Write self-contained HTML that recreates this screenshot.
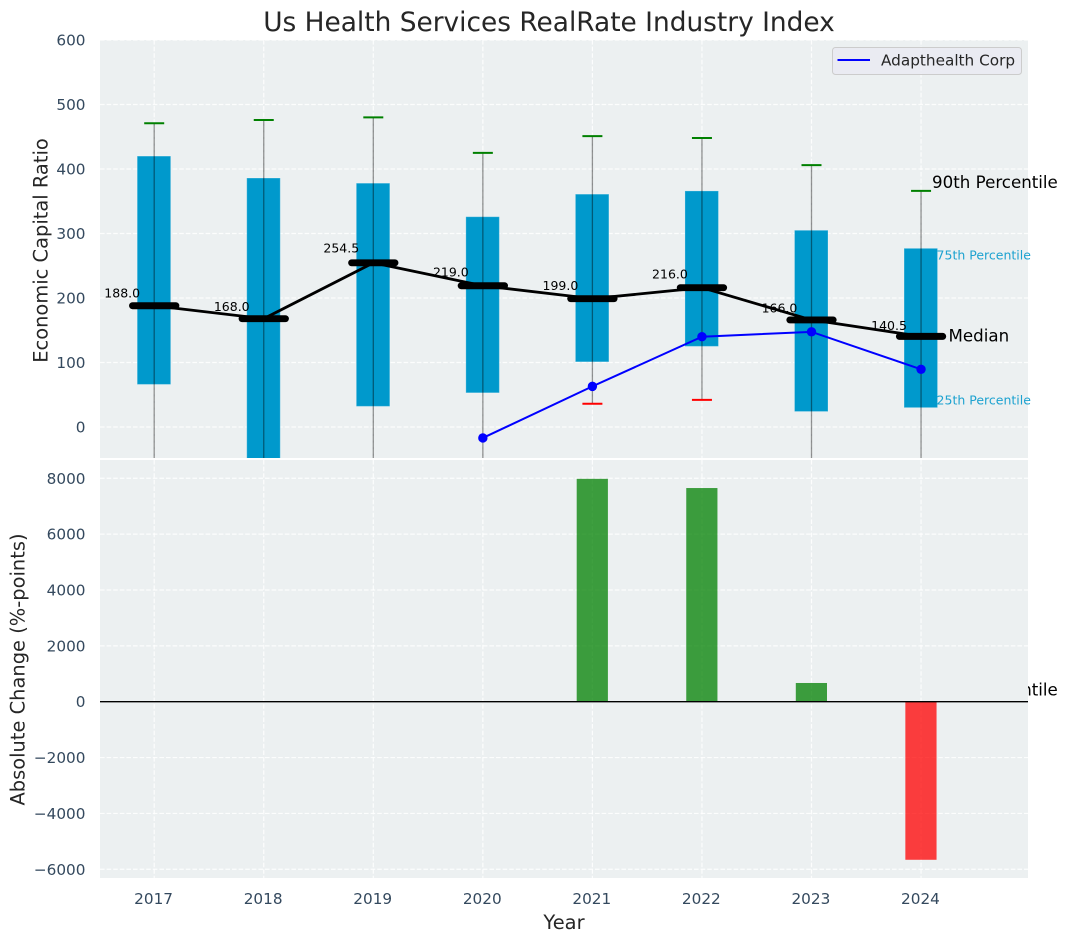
<!DOCTYPE html>
<html lang="en">
<head>
<meta charset="utf-8">
<title>Us Health Services RealRate Industry Index</title>
<style>
html,body{margin:0;padding:0;background:#fff;width:1067px;height:942px;overflow:hidden}
svg{display:block;font-family:"DejaVu Sans","Liberation Sans",sans-serif}
</style>
</head>
<body>
<svg id="chart" xmlns="http://www.w3.org/2000/svg" width="1067" height="942" viewBox="0 0 1067 942">
  <defs>
    <clipPath id="clip-top"><rect x="100" y="40" width="928" height="418"/></clipPath>
  </defs>
  <text x="549" y="31" text-anchor="middle" font-size="26.4" fill="#262626">Us Health Services RealRate Industry Index</text>
  <g id="top-panel"></g>
  <g id="bottom-panel"></g>
  <text transform="translate(47.5,250.5) rotate(-90)" text-anchor="middle" font-size="19.44" fill="#262626">Economic Capital Ratio</text>
  <text transform="translate(24.5,669.5) rotate(-90)" text-anchor="middle" font-size="19.44" fill="#262626">Absolute Change (%-points)</text>
  <text x="564" y="929" text-anchor="middle" font-size="19.44" fill="#262626">Year</text>
  <g>
    <rect x="832.5" y="47.5" width="189" height="27" rx="3" fill="#eaeaf2" fill-opacity="0.8" stroke="#cccccc"/>
    <line x1="837.5" x2="870" y1="60" y2="60" stroke="#0000ff" stroke-width="2"/>
    <text x="881" y="65.5" font-size="15.28" fill="#262626">Adapthealth Corp</text>
  </g>
</svg>
<script>
const years = [2017, 2018, 2019, 2020, 2021, 2022, 2023, 2024];
const p90 = [471, 476, 480, 425, 451, 448, 406, 366];
const p75 = [420, 386, 378, 326, 361, 366, 305, 277];
const medians = [188, 168, 254.5, 219, 199, 216, 166, 140.5];
const medianLabels = ["188.0", "168.0", "254.5", "219.0", "199.0", "216.0", "166.0", "140.5"];
const p25 = [66, -60, 32, 53, 101, 125, 24, 30];
const p10 = [-120, -200, -150, -100, 36, 42, -120, -408];
const companyYears = [2020, 2021, 2022, 2023, 2024];
const companyValues = [-17, 63, 140, 147.5, 89.5];
const changeYears = [2021, 2022, 2023, 2024];
const changeValues = [7980, 7650, 670, -5660];
const ratioTicks = [0, 100, 200, 300, 400, 500, 600];
const changeTicks = [-6000, -4000, -2000, 0, 2000, 4000, 6000, 8000];

const NS = 'http://www.w3.org/2000/svg';
const xOf = v => 154.2 + (v - 2017) * 109.55;
const yTop = v => 427 - v * 0.645;
const yBot = v => 701.7 - v * 0.02793;
const topPanel = document.getElementById('top-panel');
const bottomPanel = document.getElementById('bottom-panel');

function make(parent, tag, attrs, text) {
  const el = document.createElementNS(NS, tag);
  for (const k in attrs) el.setAttribute(k, attrs[k]);
  if (text !== undefined) el.textContent = text;
  parent.appendChild(el);
  return el;
}
function fmt(t) { return String(t).replace('-', '\u2212'); }
const gridStyle = { stroke: '#ffffff', 'stroke-opacity': 0.85, 'stroke-width': 1.2, 'stroke-dasharray': '4.6,2' };

function drawPanel(parent, yMin, yMax, ticks, yFn, name) {
  let el = make(parent, 'rect', { x: 100, y: yMin, width: 928, height: yMax - yMin, fill: '#ecf0f1' });
  
  
  ticks.forEach(t => {
    const y = yFn(t);
    el = make(parent, 'line', Object.assign({ x1: 100, x2: 1028, y1: y, y2: y }, gridStyle));
    
    
    el = make(parent, 'text', { x: 85.5, y: y + 5.5, 'text-anchor': 'end', 'font-size': 15.28, fill: '#34495e' }, fmt(t));
    
    
  });
  years.forEach(yr => {
    el = make(parent, 'line', Object.assign({ x1: xOf(yr), x2: xOf(yr), y1: yMin, y2: yMax }, gridStyle));
    
    
  });
}

/* ---------- top panel ---------- */
drawPanel(topPanel, 40, 458, ratioTicks, yTop, 'ratio');
const topMarks = make(topPanel, 'g', { 'clip-path': 'url(#clip-top)' });



years.forEach((yr, i) => {
  const cx = xOf(yr);
  let el = make(topMarks, 'rect', {
    x: cx - 17, y: yTop(p75[i]), width: 33.5, height: yTop(p25[i]) - yTop(p75[i]),
    fill: '#0099cc', stroke: '#ffffff', 'stroke-opacity': 0.25, 'stroke-width': 1
  });
  
  
  el = make(topMarks, 'line', { x1: cx, x2: cx, y1: yTop(p90[i]), y2: yTop(p10[i]), stroke: '#000000', 'stroke-opacity': 0.42, 'stroke-width': 1.3 });
  
  
  el = make(topMarks, 'line', { x1: cx - 10, x2: cx + 10, y1: yTop(p90[i]), y2: yTop(p90[i]), stroke: '#008000', 'stroke-width': 2 });
  
  
  if (yTop(p10[i]) < 458) {
    el = make(topMarks, 'line', { x1: cx - 10, x2: cx + 10, y1: yTop(p10[i]), y2: yTop(p10[i]), stroke: '#ff0000', 'stroke-width': 2 });
    
    
  }
});

const medianPath = make(topMarks, 'polyline', {
  points: years.map((yr, i) => xOf(yr) + ',' + yTop(medians[i])).join(' '),
  fill: 'none', stroke: '#000000', 'stroke-width': 2.8
});



years.forEach((yr, i) => {
  const cx = xOf(yr), cy = yTop(medians[i]);
  let el = make(topMarks, 'line', { x1: cx - 21.7, x2: cx + 21.7, y1: cy, y2: cy, stroke: '#000000', 'stroke-width': 6.9, 'stroke-linecap': 'round' });
  
  
});

const companyPath = make(topMarks, 'polyline', {
  points: companyYears.map((yr, i) => xOf(yr) + ',' + yTop(companyValues[i])).join(' '),
  fill: 'none', stroke: '#0000ff', 'stroke-width': 2
});


companyYears.forEach((yr, i) => {
  const el = make(topMarks, 'circle', { cx: xOf(yr), cy: yTop(companyValues[i]), r: 4.7, fill: '#0000ff' });
  
  
});

years.forEach((yr, i) => {
  const el = make(topPanel, 'text', { x: xOf(yr) - 32, y: yTop(medians[i]) - 1.6 - medians[i] * 0.035, 'text-anchor': 'middle', 'font-size': 12.5, fill: '#000000' }, medianLabels[i]);
  
  
});

const last = years.length - 1;
const xLast = xOf(years[last]);
let note = make(topPanel, 'text', { x: xLast + 11, y: yTop(p90[last]) - 2.9, 'font-size': 16.67, fill: '#000000' }, '90th Percentile');


note = make(topPanel, 'text', { x: xLast + 15.5, y: yTop(p75[last]) + 11.3, 'font-size': 12.5, fill: '#1da2d0' }, '75th Percentile');


note = make(topPanel, 'text', { x: xLast + 27.5, y: yTop(medians[last]) + 5.3, 'font-size': 16.67, fill: '#000000' }, 'Median');


note = make(topPanel, 'text', { x: xLast + 15.5, y: yTop(p25[last]) - 3.3, 'font-size': 12.5, fill: '#1da2d0' }, '25th Percentile');


note = make(topPanel, 'text', { x: xLast + 11, y: yTop(p10[last]) + 5.5, 'font-size': 16.67, fill: '#000000' }, '10th Percentile');



/* ---------- bottom panel ---------- */
drawPanel(bottomPanel, 460, 878, changeTicks, yBot, 'change');
changeYears.forEach((yr, i) => {
  const v = changeValues[i];
  const top = Math.min(yBot(v), yBot(0));
  const h = Math.abs(yBot(v) - yBot(0));
  const el = make(bottomPanel, 'rect', {
    x: xOf(yr) - 15.7, y: top, width: 31.2, height: h,
    fill: v >= 0 ? '#008000' : '#ff0000', 'fill-opacity': 0.75
  });
  
  
});
const zeroLine = make(bottomPanel, 'line', { x1: 100, x2: 1028, y1: yBot(0), y2: yBot(0), stroke: '#000000', 'stroke-width': 1.3 });


years.forEach(yr => {
  const el = make(bottomPanel, 'text', { x: xOf(yr) - 0.6, y: 903.8, 'text-anchor': 'middle', 'font-size': 15.28, fill: '#34495e' }, String(yr));
  
  
});
</script>
</body>
</html>
